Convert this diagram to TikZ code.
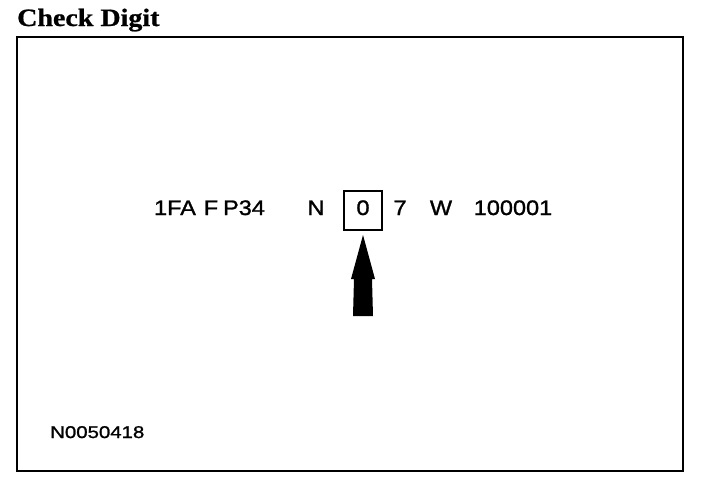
\documentclass[tikz,border=0pt]{standalone}
\usepackage{fontspec}
\setmainfont{Liberation Serif}
\newfontfamily\titlefont[FakeBold=0.8]{Liberation Serif Bold}
\newfontfamily\vinfont[FakeBold=1.2]{Liberation Sans}
\begin{document}
\begin{tikzpicture}[x=1pt,y=-1pt,
  vin/.style={anchor=base,inner sep=0pt,font=\vinfont\fontsize{21}{22}\selectfont},
  small/.style={anchor=base west,inner sep=0pt,font=\vinfont\fontsize{17}{18}\selectfont}]
\useasboundingbox (0,0) rectangle (704,482);
\node[anchor=base west,inner sep=0pt,font=\titlefont\fontsize{25}{26}\selectfont] (title) at (17,26) {\scalebox{1.12}[1]{Check Digit}};
\draw[line width=2.5pt] (17,37) rectangle (683,471);
\node[vin] (t1) at (175,215) {\scalebox{1.12}[1]{1FA}};
\node[vin] (t2) at (211,215) {\scalebox{1.12}[1]{F}};
\node[vin] (t3) at (244,215) {\scalebox{1.12}[1]{P34}};
\node[vin] (t4) at (316,215) {\scalebox{1.12}[1]{N}};
\node[vin] (t5) at (363,215) {\scalebox{1.12}[1]{0}};
\node[vin] (t6) at (400,215) {\scalebox{1.12}[1]{7}};
\node[vin] (t7) at (441,215) {\scalebox{1.12}[1]{W}};
\node[vin] (t8) at (513,215) {\scalebox{1.12}[1]{100001}};
\node[draw,line width=1.6pt,minimum width=38pt,minimum height=39pt,inner sep=0pt] (box) at (363,210.5) {};
\coordinate (tip) at (363,235);
\fill (tip) -- (375,279) -- (372,279) -- (373,316) -- (353,316) -- (354,279) -- (351,279) -- cycle;
\node[small] (code) at (50,438) {\scalebox{1.2}[1]{N0050418}};
\end{tikzpicture}
\end{document}
